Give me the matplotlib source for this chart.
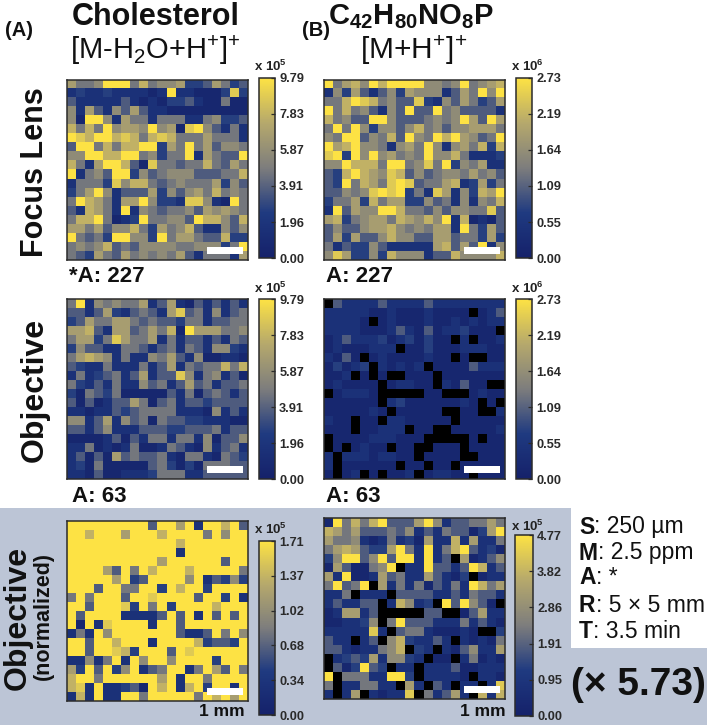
import numpy as np
import matplotlib
matplotlib.use("Agg")
import matplotlib.pyplot as plt
from matplotlib.colors import LinearSegmentedColormap
from matplotlib.patches import Polygon, Rectangle

plt.rcParams['font.family'] = ['Liberation Sans', 'DejaVu Sans']
plt.rcParams['mathtext.fontset'] = 'custom'
plt.rcParams['mathtext.rm'] = 'Liberation Sans'
plt.rcParams['mathtext.bf'] = 'Liberation Sans:bold'
plt.rcParams['mathtext.it'] = 'Liberation Sans'

# Intensity levels: 0 = navy ... 9 = yellow, x = no signal (black)
chol_focus = """
64459994745562236423
12112111101911000282
31111131010223100400
51631536311000000000
50995164414441145223
74749566595608953141
98799787478744464441
39947477992649463554
55997799452449164339
74169973084434474364
91453992534555333447
14442857743454446253
24695133362535647454
49764166952218851094
31764191543445365654
47794012944553977537
66463557426457311535
94342995529466433722
45457343555544555249
43264364545463144416
"""
lipid_focus = """
94675979999554594567
15263135265551364959
44798745338215364236
94745315393394533331
74533995333454596396
49495255357453556664
54993547395497965349
96795541564951564727
89295956454955741112
55977749945849254611
32797658735345546453
32947648983446712624
33545898924186152769
24462746622534151547
19365599744353554483
67245664765759170103
35335667545466194263
36263357553366344262
41322531111167363915
58622527555133755557
"""
chol_obj = """
49154544613610313131
33136213431683415134
23644664343324413344
66731663464709666445
46624864461413313143
25331144313414315521
46765141154631500110
32114111413614344747
14123413613385145130
42131411534136341334
20432400000314034313
30301336403413323333
11011323444411105131
55136153404332211100
33135111333223334133
00001303144144150335
11401014001431051341
13030634334104410432
12040000034202044433
11030011124441133333
"""
lipid_obj = """
x3111131111311111111
1111100100010000x013
11110x01000100101011
1111000131030112000x
01311120120200x1x001
01000111x00200011100
1030x010000100x0xx00
02012x10101x00003111
001x0x0xx000x0000000
010000x01100x10300xx
x01110xxxxx00xxx0100
000000x1200000010x0x
0000010x00000xx00xx1
100x00x1100000x00000
000x00111x00xx000001
x0000111000xxxxx0x00
x0x0100x00xx000x0000
1x11101100x0000xx000
1x000000x00x00x00000
0x01x0x001x01100x000
"""
chol_norm = """
99999999939969199793
99799969997999949599
99999999999979999999
99999999999919999999
99999999996999999399
99996394979997999994
99999692399995913252
99939944992979929999
49499939989999399291
99399982949299997999
93999911113939193939
90918999919939999999
14195999999931139495
99399799919999723329
99399872999398999999
11514919599599992999
62939259134991496394
79949999996919949999
78191123097917929919
17191199499999497969
"""
lipid_norm = """
09474793336951334464
76463334351314330269
64451014120611716114
46763226941914793120
25993593991913x60135
06300459x11933139713
6190016341163102x011
49349x61414031419746
114x111x333311314331
131133x17512x939530x
016613xxxxx33xx03611
001125x4933311141310
1111181x344100010xx2
311x13x5721131x10104
331011457x21x1035116
x1232615521x00x14010
x302932x11x111300111
9x44411992x11110x110
4x114411x61x31x11x18
1x16x10118x41361x717
"""

def rows(s):
    out = [[np.nan if c == "x" else float(c) for c in r] for r in s.split()]
    return (np.array(out) + 0.6) / 9.6

panels = [chol_focus, lipid_focus, chol_obj, lipid_obj, chol_norm, lipid_norm]
panel_max = [9.79, 2.73, 9.79, 2.73, 1.71, 4.77]
panel_ticks = [["0.00","1.96","3.91","5.87","7.83","9.79"],
               ["0.00","0.55","1.09","1.64","2.19","2.73"],
               ["0.00","1.96","3.91","5.87","7.83","9.79"],
               ["0.00","0.55","1.09","1.64","2.19","2.73"],
               ["0.00","0.34","0.68","1.02","1.37","1.71"],
               ["0.00","0.95","1.91","2.86","3.82","4.77"]]
exponents = [5, 6, 5, 6, 5, 5]

W, H = 709, 728
fig = plt.figure(figsize=(W/100, H/100), dpi=100, facecolor="white")

def px_axes(x0, y0, x1, y1, **kw):
    return fig.add_axes([x0/W, 1-y1/H, (x1-x0)/W, (y1-y0)/H], **kw)

bg = px_axes(0, 0, W, H, zorder=-1)
bg.set_xlim(0, W); bg.set_ylim(H, 0); bg.axis("off")
bg.add_patch(Polygon([(0,508),(571,508),(571,648),(707,648),(707,725),(0,725)],
                     closed=True, fc="#bcc5d6", ec="none"))

cmap = LinearSegmentedColormap.from_list("nvg", ["#15216a", "#1f3a80", "#7d7d7d", "#b5a86c", "#fde244"], N=256)
cmap.set_bad("black")

img_boxes = [(67,80,248,260),(324,80,505,260),(67,299,248,479),(324,299,505,479),(67,521,248,701),(324,518,505,699)]
cb_boxes = [(259,78,275,258),(516,78,532,258),(259,299,275,479),(516,299,532,479),(259,541,275,715),(515,535,533,716)]
exp_pos = [(254,66),(511,66),(254,288),(511,288),(254,529),(511,526)]
edge = "#2b2b2b"

for i in range(6):
    data = rows(panels[i]) * panel_max[i]
    ax = px_axes(*img_boxes[i])
    im = ax.imshow(data, cmap=cmap, vmin=0, vmax=panel_max[i], aspect="auto", interpolation="nearest")
    ax.set_xticks([]); ax.set_yticks([])
    for s in ax.spines.values():
        s.set_color(edge); s.set_linewidth(1.1)
    ax.add_patch(Rectangle((15.0, 18.05), 4.0, 0.8, fc="white", ec="none"))
    cax = px_axes(*cb_boxes[i])
    cb = fig.colorbar(im, cax=cax)
    cb.set_ticks(np.linspace(0, panel_max[i], 6))
    cb.set_ticklabels(panel_ticks[i])
    cax.tick_params(length=3, width=0.9, direction="in", pad=3, color=edge, labelcolor="#2a2a2a")
    for t in cax.get_yticklabels():
        t.set_fontsize(9.2); t.set_fontweight("bold")
    cb.outline.set_edgecolor(edge); cb.outline.set_linewidth(1.1)
    ex, ey = exp_pos[i]
    bg.text(ex, ey, r"x 10$^{\mathbf{%d}}$" % exponents[i], fontsize=9.5, fontweight="bold",
            va="center", ha="left", color="#222222")

# Titles
ink = "#111111"
bg.text(156, 17, "Cholesterol", fontsize=22, fontweight="bold", ha="center", va="center", color=ink)
bg.text(155, 50, r"[M-H$_{2}$O+H$^{+}$]$^{+}$", fontsize=21, ha="center", va="center", color=ink)
bg.text(411, 17, r"C$_{\mathbf{42}}$H$_{\mathbf{80}}$NO$_{\mathbf{8}}$P", fontsize=21, fontweight="bold", ha="center", va="center", color=ink)
bg.text(414, 50, r"[M+H$^{+}$]$^{+}$", fontsize=21.5, ha="center", va="center", color=ink)
bg.text(5, 30, "(A)", fontsize=14.5, fontweight="bold", va="center", color=ink)
bg.text(302, 30, "(B)", fontsize=14.5, fontweight="bold", va="center", color=ink)

# Row labels
bg.text(35, 172, "Focus Lens", fontsize=22, fontweight="bold", rotation=90, ha="center", va="center", color=ink)
bg.text(35, 390, "Objective", fontsize=23, fontweight="bold", rotation=90, ha="center", va="center", color=ink)
bg.text(18, 618, "Objective", fontsize=23, fontweight="bold", rotation=90, ha="center", va="center", color=ink)
bg.text(43, 616, "(normalized)", fontsize=15.5, fontweight="bold", rotation=90, ha="center", va="center", color=ink)

# Area labels
for x, y, s in [(69,277,"*A: 227"),(326,277,"A: 227"),(72,497,"A: 63"),(326,497,"A: 63")]:
    bg.text(x, y, s, fontsize=16, fontweight="bold", va="center", color=ink)
for x in (222, 483):
    bg.text(x, 712, "1 mm", fontsize=12.5, fontweight="bold", ha="center", va="center", color=ink)

# Settings block
settings = [("S", ": 250 µm", 527), ("M", ": 2.5 ppm", 553), ("A", ": *", 578), ("R", ": 5 × 5 mm", 605), ("T", ": 3.5 min", 631)]
renderer = fig.canvas.get_renderer()
for k, v, y in settings:
    t = bg.text(579, y, k, fontsize=16.5, fontweight="bold", va="center", color=ink)
    bb = t.get_window_extent(renderer)
    bg.text(579 + bb.width, y, v, fontsize=16.5, va="center", color=ink)
bg.text(638, 685, "(× 5.73)", fontsize=28, fontweight="bold", ha="center", va="center", color=ink)

fig.savefig("out.png", dpi=100)
